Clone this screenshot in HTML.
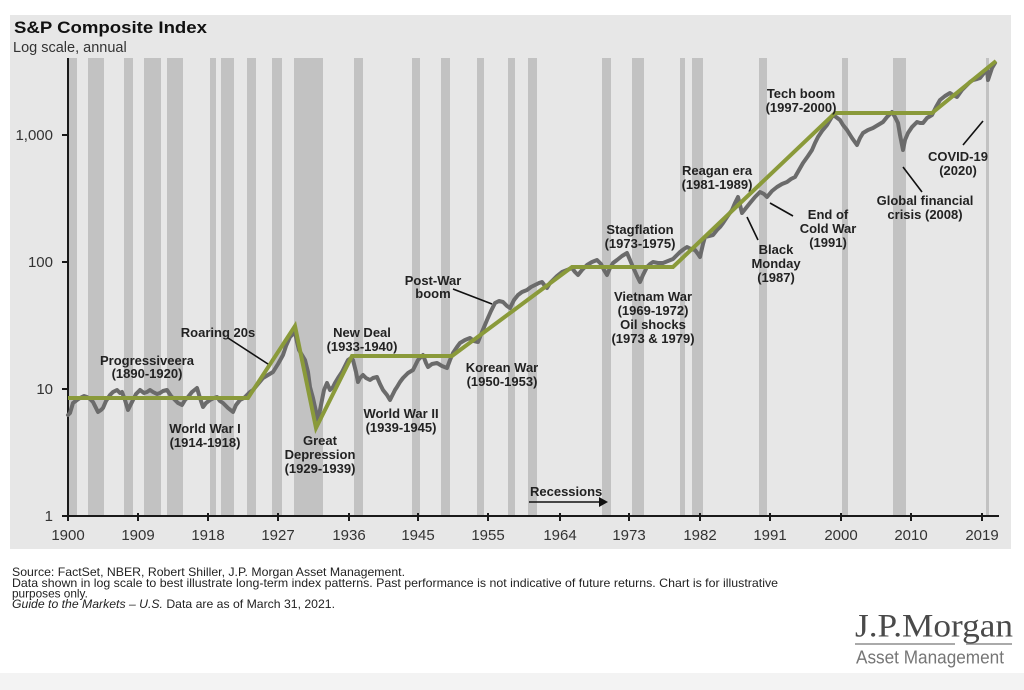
<!DOCTYPE html>
<html>
<head>
<meta charset="utf-8">
<style>
  html, body { margin: 0; padding: 0; background: #ffffff; }
  body { width: 1024px; height: 690px; overflow: hidden; }
  svg { display: block; }
  .ann { font-family: "Liberation Sans", Arial, sans-serif; font-weight: bold; font-size: 13px; fill: #222; text-anchor: middle; }
  .ax { font-family: "Liberation Sans", Arial, sans-serif; font-size: 15px; fill: #333; }
  .src { font-family: "Liberation Sans", Arial, sans-serif; font-size: 11.8px; fill: #222; }
</style>
</head>
<body>
<svg width="1024" height="690" viewBox="0 0 1024 690" xmlns="http://www.w3.org/2000/svg">
  <rect x="0" y="0" width="1024" height="690" fill="#ffffff"/>
  <!-- chart panel -->
  <rect x="10" y="15" width="1001" height="534" fill="#e7e7e7"/>
  <rect x="0" y="673" width="1024" height="17" fill="#f3f3f3"/>

  <!-- recession bars -->
  <g fill="#c2c2c2">
    <rect x="68" y="58" width="9" height="458"/>
    <rect x="88" y="58" width="16" height="458"/>
    <rect x="124" y="58" width="9" height="458"/>
    <rect x="144" y="58" width="17" height="458"/>
    <rect x="167" y="58" width="16" height="458"/>
    <rect x="210" y="58" width="6" height="458"/>
    <rect x="221" y="58" width="13" height="458"/>
    <rect x="247" y="58" width="9" height="458"/>
    <rect x="272" y="58" width="10" height="458"/>
    <rect x="294" y="58" width="29" height="458"/>
    <rect x="354" y="58" width="9" height="458"/>
    <rect x="412" y="58" width="8" height="458"/>
    <rect x="441" y="58" width="9" height="458"/>
    <rect x="477" y="58" width="7" height="458"/>
    <rect x="508" y="58" width="7" height="458"/>
    <rect x="528" y="58" width="9" height="458"/>
    <rect x="602" y="58" width="9" height="458"/>
    <rect x="632" y="58" width="12" height="458"/>
    <rect x="680" y="58" width="5" height="458"/>
    <rect x="692" y="58" width="11" height="458"/>
    <rect x="759" y="58" width="8" height="458"/>
    <rect x="842" y="58" width="6" height="458"/>
    <rect x="893" y="58" width="13" height="458"/>
    <rect x="986" y="58" width="3" height="458"/>
  </g>

  <!-- title -->
  <text x="14" y="33" font-family="Liberation Sans, Arial, sans-serif" font-weight="bold" font-size="17" fill="#111" textLength="193" lengthAdjust="spacingAndGlyphs">S&amp;P Composite Index</text>
  <text x="13" y="52" font-family="Liberation Sans, Arial, sans-serif" font-size="14.5" fill="#333">Log scale, annual</text>

  <!-- axes -->
  <g stroke="#1a1a1a" stroke-width="2" fill="none">
    <line x1="68" y1="58" x2="68" y2="517"/>
    <line x1="67" y1="516" x2="999" y2="516"/>
    <line x1="62" y1="135" x2="68" y2="135"/>
    <line x1="62" y1="262" x2="68" y2="262"/>
    <line x1="62" y1="389" x2="68" y2="389"/>
    <line x1="62" y1="516" x2="68" y2="516"/>
    <line x1="68" y1="513" x2="68" y2="521"/>
    <line x1="138" y1="513" x2="138" y2="521"/>
    <line x1="208" y1="513" x2="208" y2="521"/>
    <line x1="278" y1="513" x2="278" y2="521"/>
    <line x1="349" y1="513" x2="349" y2="521"/>
    <line x1="418" y1="513" x2="418" y2="521"/>
    <line x1="488" y1="513" x2="488" y2="521"/>
    <line x1="560" y1="513" x2="560" y2="521"/>
    <line x1="629" y1="513" x2="629" y2="521"/>
    <line x1="700" y1="513" x2="700" y2="521"/>
    <line x1="770" y1="513" x2="770" y2="521"/>
    <line x1="841" y1="513" x2="841" y2="521"/>
    <line x1="911" y1="513" x2="911" y2="521"/>
    <line x1="982" y1="513" x2="982" y2="521"/>
  </g>

  <!-- y labels -->
  <g class="ax" text-anchor="end">
    <text x="53" y="140">1,000</text>
    <text x="53" y="267">100</text>
    <text x="53" y="394">10</text>
    <text x="53" y="521">1</text>
  </g>
  <!-- x labels -->
  <g class="ax" text-anchor="middle">
    <text x="68" y="540">1900</text>
    <text x="138" y="540">1909</text>
    <text x="208" y="540">1918</text>
    <text x="278" y="540">1927</text>
    <text x="349" y="540">1936</text>
    <text x="418" y="540">1945</text>
    <text x="488" y="540">1955</text>
    <text x="560" y="540">1964</text>
    <text x="629" y="540">1973</text>
    <text x="700" y="540">1982</text>
    <text x="770" y="540">1991</text>
    <text x="841" y="540">2000</text>
    <text x="911" y="540">2010</text>
    <text x="982" y="540">2019</text>
  </g>

  <!-- S&P data line -->
  <polyline fill="none" stroke="#6b6b6b" stroke-width="4" stroke-linejoin="round" stroke-linecap="round"
    points="68,415 70,413 73,403 77,400 80,398 84,396 87,397 90,399 93,402 96,408 98,412 101,410 103,408 106,401 110,395 113,392 117,390 120,393 122,392 125,400 128,410 131,404 133,400 136,394 140,390 144,393 147,392 150,390 153,392 157,394 160,393 163,391 167,390 171,396 175,400 178,403 182,405 185,400 188,397 192,392 197,388 200,398 203,407 206,403 210,400 214,398 217,397 220,401 223,403 228,408 233,412 236,405 240,400 244,398 247,395 250,392 253,390 258,384 263,378 268,375 273,372 278,364 283,355 286,346 290,337 293,334 295,332 297,342 299,350 302,355 305,360 308,372 310,387 313,398 315,407 317,416 318,420 320,410 322,400 324,390 327,383 330,390 333,387 335,383 338,378 342,372 345,366 348,360 351,358 353,360 356,372 358,382 360,378 363,375 366,378 370,380 373,378 377,377 380,384 383,390 387,395 390,400 392,396 395,390 397,387 400,382 403,378 408,373 413,370 416,364 418,360 421,357 423,355 426,363 428,367 432,364 437,363 442,366 447,368 450,360 453,353 457,347 460,343 465,340 470,338 474,341 478,342 482,332 487,320 491,311 495,303 499,301 503,302 507,306 510,308 514,300 518,295 522,292 527,290 531,287 535,285 539,283 542,282 545,286 547,288 550,283 553,280 557,276 562,272 567,270 572,268 575,272 578,275 582,270 587,265 592,262 597,260 601,264 604,270 607,275 610,268 613,263 617,260 622,256 627,253 630,260 633,267 637,276 640,282 643,275 647,267 650,264 653,262 658,263 663,263 668,261 673,259 677,255 680,252 684,249 687,247 691,249 695,250 698,254 700,257 703,244 705,237 709,236 713,235 717,230 720,227 723,223 727,217 732,210 735,203 738,197 740,205 742,213 746,208 750,203 755,197 760,192 764,194 767,197 772,191 777,187 782,184 787,182 791,179 795,177 799,170 803,163 808,156 812,150 815,143 818,137 822,131 827,125 830,120 833,115 836,117 840,120 843,125 847,130 852,138 857,145 860,138 863,133 868,130 873,128 878,125 883,122 887,117 892,112 895,117 898,123 900,135 903,150 905,140 908,133 912,127 917,122 920,123 923,123 927,118 932,115 936,107 940,100 945,96 950,93 953,95 957,97 962,90 967,85 970,82 973,80 977,79 980,78 984,73 987,70 988,80 990,74 992,68 995,63"/>

  <!-- trend line -->
  <polyline fill="none" stroke="#8a9a3a" stroke-width="4" stroke-linejoin="miter" stroke-linecap="butt"
    points="68,398 248,398 295,326 316,428 352,356 452,356 572,267 673,267 835,113 932,113 996,61"/>

  <!-- leader lines -->
  <g stroke="#111" stroke-width="1.6">
    <line x1="228" y1="338" x2="268" y2="364"/>
    <line x1="453" y1="289" x2="492" y2="304"/>
    <line x1="747" y1="217" x2="758" y2="240"/>
    <line x1="770" y1="203" x2="793" y2="216"/>
    <line x1="903" y1="167" x2="922" y2="192"/>
    <line x1="963" y1="145" x2="983" y2="121"/>
  </g>

  <!-- annotations -->
  <text class="ann" x="147" y="365">Progressiveera</text>
  <text class="ann" x="147" y="378">(1890-1920)</text>
  <text class="ann" x="218" y="337">Roaring 20s</text>
  <text class="ann" x="362" y="337">New Deal</text>
  <text class="ann" x="362" y="351">(1933-1940)</text>
  <text class="ann" x="205" y="433">World War I</text>
  <text class="ann" x="205" y="447">(1914-1918)</text>
  <text class="ann" x="320" y="445">Great</text>
  <text class="ann" x="320" y="459">Depression</text>
  <text class="ann" x="320" y="473">(1929-1939)</text>
  <text class="ann" x="401" y="418">World War II</text>
  <text class="ann" x="401" y="432">(1939-1945)</text>
  <text class="ann" x="433" y="285">Post-War</text>
  <text class="ann" x="433" y="298">boom</text>
  <text class="ann" x="502" y="372">Korean War</text>
  <text class="ann" x="502" y="386">(1950-1953)</text>
  <text class="ann" x="640" y="234">Stagflation</text>
  <text class="ann" x="640" y="248">(1973-1975)</text>
  <text class="ann" x="653" y="301">Vietnam War</text>
  <text class="ann" x="653" y="315">(1969-1972)</text>
  <text class="ann" x="653" y="329">Oil shocks</text>
  <text class="ann" x="653" y="343">(1973 &amp; 1979)</text>
  <text class="ann" x="717" y="175">Reagan era</text>
  <text class="ann" x="717" y="189">(1981-1989)</text>
  <text class="ann" x="801" y="98">Tech boom</text>
  <text class="ann" x="801" y="112">(1997-2000)</text>
  <text class="ann" x="776" y="254">Black</text>
  <text class="ann" x="776" y="268">Monday</text>
  <text class="ann" x="776" y="282">(1987)</text>
  <text class="ann" x="828" y="219">End of</text>
  <text class="ann" x="828" y="233">Cold War</text>
  <text class="ann" x="828" y="247">(1991)</text>
  <text class="ann" x="925" y="205">Global financial</text>
  <text class="ann" x="925" y="219">crisis (2008)</text>
  <text class="ann" x="958" y="161">COVID-19</text>
  <text class="ann" x="958" y="175">(2020)</text>

  <!-- recessions legend -->
  <text x="530" y="496" font-family="Liberation Sans, Arial, sans-serif" font-weight="bold" font-size="13" fill="#222">Recessions</text>
  <line x1="529" y1="502" x2="600" y2="502" stroke="#111" stroke-width="1.6"/>
  <polygon points="599,497 608,502 599,507" fill="#111"/>

  <!-- source text -->
  <text class="src" x="12" y="576" textLength="393" lengthAdjust="spacingAndGlyphs">Source: FactSet, NBER, Robert Shiller, J.P. Morgan Asset Management.</text>
  <text class="src" x="12" y="587" textLength="766" lengthAdjust="spacingAndGlyphs">Data shown in log scale to best illustrate long-term index patterns. Past performance is not indicative of future returns. Chart is for illustrative</text>
  <text class="src" x="12" y="597.5">purposes only.</text>
  <text class="src" x="12" y="608" textLength="323" lengthAdjust="spacingAndGlyphs"><tspan font-style="italic">Guide to the Markets – U.S.</tspan> Data are as of March 31, 2021.</text>

  <!-- logo -->
  <text x="855" y="636.5" font-family="Liberation Serif, Times New Roman, serif" font-size="33" fill="#4a4a4a" textLength="158" lengthAdjust="spacingAndGlyphs">J.P.Morgan</text>
  <line x1="855" y1="644" x2="955" y2="644" stroke="#777" stroke-width="1.2"/>
  <line x1="966" y1="644" x2="1012" y2="644" stroke="#777" stroke-width="1.2"/>
  <text x="856" y="663.3" font-family="Liberation Sans, Arial, sans-serif" font-size="18" fill="#767676" textLength="148" lengthAdjust="spacingAndGlyphs">Asset Management</text>
</svg>
</body>
</html>
